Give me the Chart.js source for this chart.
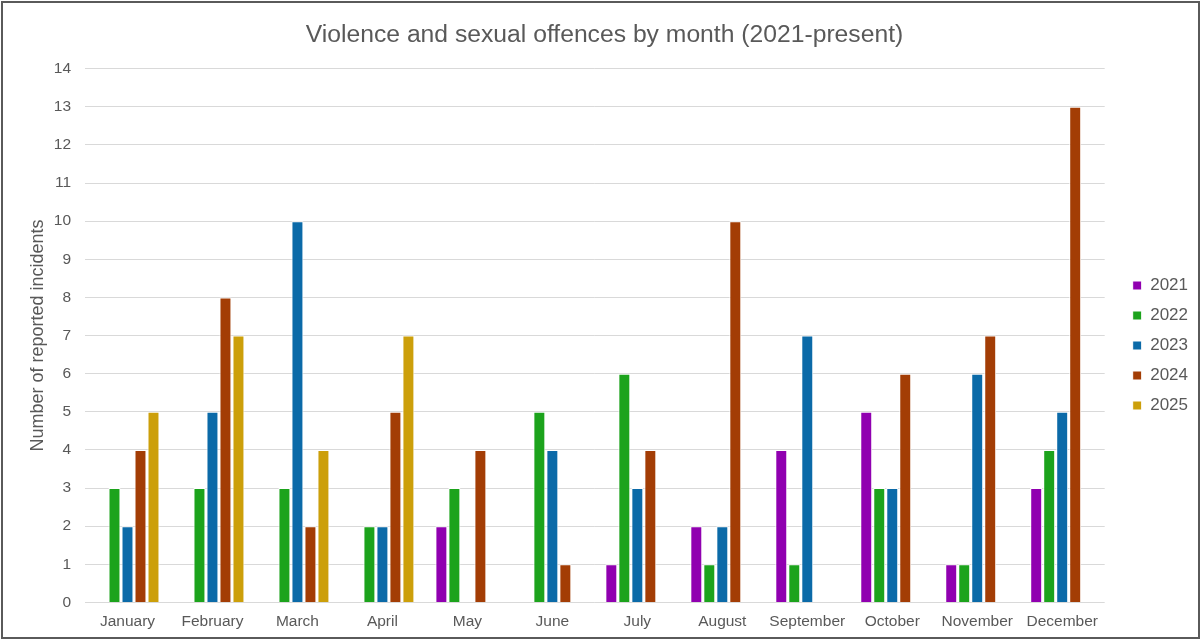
<!DOCTYPE html>
<html>
<head>
<meta charset="utf-8">
<title>Violence and sexual offences by month</title>
<script src="https://cdn.jsdelivr.net/npm/chart.js@4"></script>
<style>
  html, body { margin: 0; padding: 0; background: #fff; }
  .frame {
    position: absolute; left: 1px; top: 1px;
    width: 1199px; height: 638px;
    border: 2px solid #5a5a5a; box-sizing: border-box;
  }
  canvas { display: block; }
</style>
</head>
<body>
<div class="frame"><canvas id="offencesChart"></canvas></div>
<script>
const months = ["January", "February", "March", "April", "May", "June",
  "July", "August", "September", "October", "November", "December"];

// reported incidents per month, one array per year
const y2021 = [0, 0, 0, 0, 2, 0, 1, 2, 4, 5, 1, 3];
const y2022 = [3, 3, 3, 2, 3, 5, 6, 1, 1, 3, 1, 4];
const y2023 = [2, 5, 10, 2, 0, 4, 3, 2, 7, 3, 6, 5];
const y2024 = [4, 8, 2, 5, 4, 1, 4, 10, 0, 6, 7, 13];
const y2025 = [5, 7, 4, 7, null, null, null, null, null, null, null, null];

const yearColours = {
  "2021": "#9000b0",
  "2022": "#1ca31c",
  "2023": "#0b6aa8",
  "2024": "#a33d05",
  "2025": "#cc9f0a",
};

const textGrey = "#595959";
Chart.defaults.font.family = "'Liberation Sans', Arial, sans-serif";
Chart.defaults.color = textGrey;

function series(label, values) {
  return {
    label: label,
    data: values,
    backgroundColor: yearColours[label],
    borderColor: "#ffffff",
    borderWidth: 1,
    barPercentage: 0.92,
    categoryPercentage: 0.765,
  };
}

const ctx = document.getElementById("offencesChart").getContext("2d");
new Chart(ctx, {
  type: "bar",
  data: {
    labels: months,
    datasets: [
      series("2021", y2021),
      series("2022", y2022),
      series("2023", y2023),
      series("2024", y2024),
      series("2025", y2025),
    ],
  },
  options: {
    responsive: true,
    maintainAspectRatio: false,
    animation: false,
    layout: { padding: { left: 8, right: 0, top: 17, bottom: 4 } },
    plugins: {
      title: {
        display: true,
        text: "Violence and sexual offences by month (2021-present)",
        color: textGrey,
        font: { size: 24.7, weight: "normal" },
        padding: { top: 0, bottom: 19 },
      },
      legend: {
        position: "right",
        // empty title only nudges the key entries down a little
        title: { display: true, text: "", font: { size: 10 }, padding: 13 },
        labels: {
          boxWidth: 9,
          boxHeight: 9,
          padding: 13,
          color: textGrey,
          font: { size: 17 },
        },
      },
      tooltip: { enabled: false },
    },
    scales: {
      x: {
        grid: { display: false },
        border: { display: false },
        ticks: { font: { size: 15.5 }, color: textGrey, padding: 2, maxRotation: 0 },
      },
      y: {
        min: 0,
        max: 14,
        afterFit: (scale) => { scale.width = 74; },
        ticks: { stepSize: 1, font: { size: 15.5 }, color: textGrey, padding: 14 },
        grid: { color: "#d9d9d9", drawTicks: false },
        border: { display: false },
        title: {
          display: true,
          text: "Number of reported incidents",
          color: textGrey,
          font: { size: 18 },
          padding: { top: 16, bottom: 0 },
        },
      },
      // blank spacer between the plot and the key
      gap: {
        type: "linear",
        position: "right",
        afterFit: (scale) => { scale.width = 15; },
        grid: { display: false },
        border: { display: false },
        ticks: { display: false },
      },
    },
  },
});
</script>
</body>
</html>
